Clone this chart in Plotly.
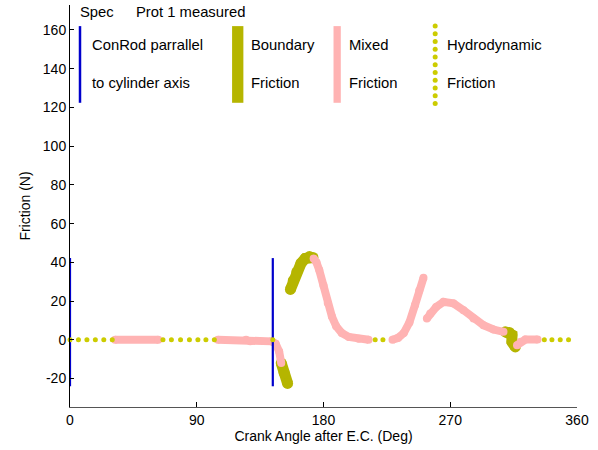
import plotly.graph_objects as go

# ---------------- data ----------------
# Spec: conrod parallel to cylinder axis (vertical markers)
spec_x = [0, 0, None, 144, 144]
spec_y = [-24, 42.2, None, -24, 42.2]

# Mixed friction (pink)
mixed_x = [32, 62.7, None,
           105, 125, 128, 143, 146, 148.5, 150, None,
           173, 175, 177, 180, 183, 186, 189, 193, 198, 205, 212, None,
           229, 233, 237, 241, 245, 248, 251, None,
           253.4, 255.8, 260, 265.2, 272.3, 279.4, 286.5, 293.6, 300.7, 307.8, None,
           317.4, 320, 323.3, 332]
mixed_y = [0, 0, None,
           0, 0, -0.8, -0.8, -2, -6, -12, None,
           42, 40, 36, 28, 19, 12, 7, 3.5, 1.5, 0.5, 0, None,
           0, 1, 3.5, 9, 18, 25.5, 32, None,
           11, 13.6, 17, 19.6, 18.8, 15.3, 11, 7.5, 5.3, 4.1, None,
           -2.8, -1, 0.1, 0.1]

# Boundary friction (olive)
boundary_x = [150, 152, 154.5, None,
              156.5, 158.5, 161, 164, 167, 170, 172.5, None,
              309.1, 312, 313.8, 313.8, 316.2]
boundary_y = [-12, -17, -22.5, None,
              26, 30.5, 35, 39.5, 42, 43, 42.5, None,
              4.1, 3.8, 2.5, -1.1, -3.7]

# Hydrodynamic friction (dotted)
hydro_x = [0, 6, 12, 18, 24, 30,
           66, 72, 78.5, 84.8, 90.8, 96.5, 102.5, 144,
           216.7, 222.2,
           336.8, 342.2, 348.1, 354]
hydro_y = [0] * len(hydro_x)

# legend texts
legend_top = ["ConRod parrallel", "Boundary", "Mixed", "Hydrodynamic"]
legend_bottom = ["to cylinder axis", "Friction", "Friction", "Friction"]
legend_text_x = [14.2, 127.4, 196.6, 266.4]
header_text = ["Spec", "Prot 1 measured"]
header_x = [5.9, 45.7]

x_ticks = [0, 90, 180, 270, 360]
y_ticks = [-20, 0, 20, 40, 60, 80, 100, 120, 140, 160]

# ---------------- styles ----------------
BLUE = "#0000CC"
OLIVE = "#B5B500"
PINK = "#FFB3B3"
YELLOW = "#CCCC00"
FONT = "Liberation Sans, Arial, sans-serif"
TXT = 14.8
TICK = 14

fig = go.Figure()

# boundary
fig.add_trace(go.Scatter(x=boundary_x, y=boundary_y, mode="lines+markers",
                         line=dict(color=OLIVE, width=11),
                         marker=dict(color=OLIVE, size=11),
                         connectgaps=False, showlegend=False, hoverinfo="skip"))
# mixed
fig.add_trace(go.Scatter(x=mixed_x, y=mixed_y, mode="lines+markers",
                         line=dict(color=PINK, width=8),
                         marker=dict(color=PINK, size=8),
                         connectgaps=False, showlegend=False, hoverinfo="skip"))
# spec
fig.add_trace(go.Scatter(x=spec_x, y=spec_y, mode="lines",
                         line=dict(color=BLUE, width=2.2),
                         connectgaps=False, showlegend=False, hoverinfo="skip"))
# hydro
fig.add_trace(go.Scatter(x=hydro_x, y=hydro_y, mode="markers",
                         marker=dict(color=YELLOW, size=5),
                         showlegend=False, hoverinfo="skip", cliponaxis=False))

# ---- in-axes legend samples ----
leg_y0, leg_y1 = 122.4, 162
fig.add_trace(go.Scatter(x=[7.1, 7.1], y=[leg_y0, leg_y1], mode="lines",
                         line=dict(color=BLUE, width=2.5), showlegend=False, hoverinfo="skip"))
fig.add_trace(go.Scatter(x=[119.1, 119.1], y=[leg_y0, leg_y1], mode="lines",
                         line=dict(color=OLIVE, width=11.3), showlegend=False, hoverinfo="skip"))
fig.add_trace(go.Scatter(x=[189.7, 189.7], y=[leg_y0, leg_y1], mode="lines",
                         line=dict(color=PINK, width=7.3), showlegend=False, hoverinfo="skip"))
leg_dot_y = [122, 126, 130, 134, 138, 142, 146, 150, 154, 158, 162]
fig.add_trace(go.Scatter(x=[259.3] * len(leg_dot_y), y=leg_dot_y, mode="markers",
                         marker=dict(color=YELLOW, size=5), showlegend=False, hoverinfo="skip"))

annotations = []
for t, x in zip(header_text, header_x):
    annotations.append(dict(x=x, y=169.5, text=t, xref="x", yref="y", showarrow=False,
                            xanchor="left", yanchor="middle",
                            font=dict(family=FONT, size=TXT, color="#000")))
for t1, t2, x in zip(legend_top, legend_bottom, legend_text_x):
    annotations.append(dict(x=x, y=152.2, text=t1, xref="x", yref="y", showarrow=False,
                            xanchor="left", yanchor="middle",
                            font=dict(family=FONT, size=TXT, color="#000")))
    annotations.append(dict(x=x, y=132.5, text=t2, xref="x", yref="y", showarrow=False,
                            xanchor="left", yanchor="middle",
                            font=dict(family=FONT, size=TXT, color="#000")))

fig.update_layout(
    width=598, height=450,
    margin=dict(l=70, r=21, t=5, b=43, pad=0, autoexpand=False),
    paper_bgcolor="white", plot_bgcolor="white",
    font=dict(family=FONT, size=TICK, color="#000"),
    annotations=annotations,
    xaxis=dict(range=[0, 360], tickvals=x_ticks, ticktext=[str(v) for v in x_ticks],
               ticks="inside", ticklen=5, tickcolor="#000", showgrid=False, zeroline=False,
               showline=True, linecolor="#555", linewidth=1, automargin=False,
               title=dict(text="Crank Angle after E.C. (Deg)", standoff=3,
                          font=dict(family=FONT, size=TICK)),
               tickfont=dict(family=FONT, size=TICK)),
    yaxis=dict(range=[-34.7, 172.9], tickvals=y_ticks, ticktext=[str(v) for v in y_ticks],
               ticks="inside", ticklen=4, tickcolor="#000", showgrid=False, zeroline=False,
               showline=True, linecolor="#000", linewidth=1, automargin=False,
               title=dict(text="Friction (N)", standoff=8,
                          font=dict(family=FONT, size=TICK)),
               tickfont=dict(family=FONT, size=TICK)),
)

fig.write_html("out.html",
               config={"displayModeBar": False, "staticPlot": True},
               post_script="document.body.style.margin='0';document.body.style.overflow='hidden';")
